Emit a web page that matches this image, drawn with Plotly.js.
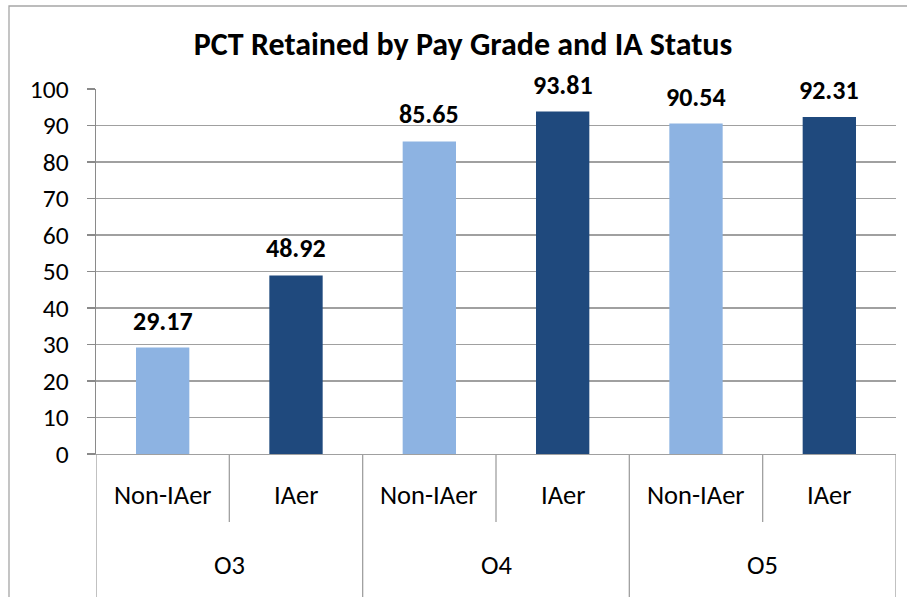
<!DOCTYPE html>
<html>
<head>
<meta charset="utf-8">
<script src="https://cdn.plot.ly/plotly-3.0.1.min.js"></script>
<style>html,body{margin:0;padding:0;background:#fff;}#chart{width:907px;height:597px;}</style>
</head>
<body>
<div id="chart"></div>
<script>
var grades = ["O3", "O4", "O5"];
var statuses = ["Non-IAer", "IAer"];
var nonIAer = [29.17, 85.65, 90.54];
var iaer = [48.92, 93.81, 92.31];
var yTicks = [0, 10, 20, 30, 40, 50, 60, 70, 80, 90, 100];

var FONT = "Carlito, Calibri, Lato, sans-serif";
var LIGHT = "#8DB3E2", DARK = "#1F497D";
var LINE = "#a0a0a0";

var traces = [
  {type: "bar", name: statuses[0], x: grades, y: nonIAer, marker: {color: LIGHT}, hoverinfo: "x+y"},
  {type: "bar", name: statuses[1], x: grades, y: iaer, marker: {color: DARK}, hoverinfo: "x+y"}
];

var annotations = [];
var shapes = [];
var series = [nonIAer, iaer];
grades.forEach(function (g, i) {
  series.forEach(function (vals, k) {
    var xc = i + (k === 0 ? -0.25 : 0.25);
    annotations.push({x: xc, y: vals[i], xref: "x", yref: "y", text: "<b>" + vals[i].toFixed(2) + "</b>",
      showarrow: false, yanchor: "bottom", yshift: 9, font: {family: FONT, size: 26, color: "#000"}});
    annotations.push({x: xc, y: -0.1123, xref: "x", yref: "paper", text: statuses[k],
      showarrow: false, yanchor: "middle", font: {family: FONT, size: 26.5, color: "#000"}});
  });
  annotations.push({x: i, y: -0.304, xref: "x", yref: "paper", text: g,
    showarrow: false, yanchor: "middle", font: {family: FONT, size: 26.5, color: "#000"}});
  shapes.push({type: "line", xref: "x", yref: "paper", x0: i, x1: i, y0: 0, y1: -0.186,
    line: {color: LINE, width: 1.3}});
});
for (var b = 0; b <= grades.length; b++) {
  shapes.push({type: "line", xref: "x", yref: "paper", x0: b - 0.5, x1: b - 0.5, y0: 0, y1: -0.4,
    line: {color: LINE, width: 1.3}});
}
// outer chart frame
shapes.push({type: "rect", xref: "paper", yref: "paper", x0: -0.10875, x1: 1.05, y0: -0.6, y1: 1.2274,
  line: {color: "#a6a6a6", width: 1.3}, fillcolor: "rgba(0,0,0,0)", layer: "below"});

var layout = {
  width: 907, height: 597,
  margin: {l: 96, r: 11, t: 89, b: 143},
  paper_bgcolor: "#fff", plot_bgcolor: "#fff",
  showlegend: false,
  barmode: "group", bargap: 0, bargroupgap: 0.6,
  font: {family: FONT, color: "#000"},
  title: {text: "<b>PCT Retained by Pay Grade and IA Status</b>", x: 463 / 907, xanchor: "center",
    xref: "container", yref: "container", y: 1 - 44 / 597, yanchor: "middle",
    font: {family: FONT, size: 32, color: "#000"}},
  xaxis: {type: "category", range: [-0.5, 2.5], showticklabels: false, ticks: "",
    showline: true, linecolor: LINE, linewidth: 1.3, showgrid: false, zeroline: false, fixedrange: true},
  yaxis: {range: [0, 100], tickvals: yTicks, ticktext: yTicks.map(String), showgrid: true, gridcolor: LINE, gridwidth: 1.3,
    showline: true, linecolor: "#8a8a8a", linewidth: 1.3, ticks: "outside", ticklen: 8, tickcolor: "#8a8a8a", tickwidth: 1.3,
    ticklabelstandoff: 13, tickfont: {family: FONT, size: 25.5, color: "#000"}, zeroline: false, fixedrange: true},
  annotations: annotations,
  shapes: shapes
};

Plotly.newPlot("chart", traces, layout, {displayModeBar: false, staticPlot: true});
</script>
</body>
</html>
